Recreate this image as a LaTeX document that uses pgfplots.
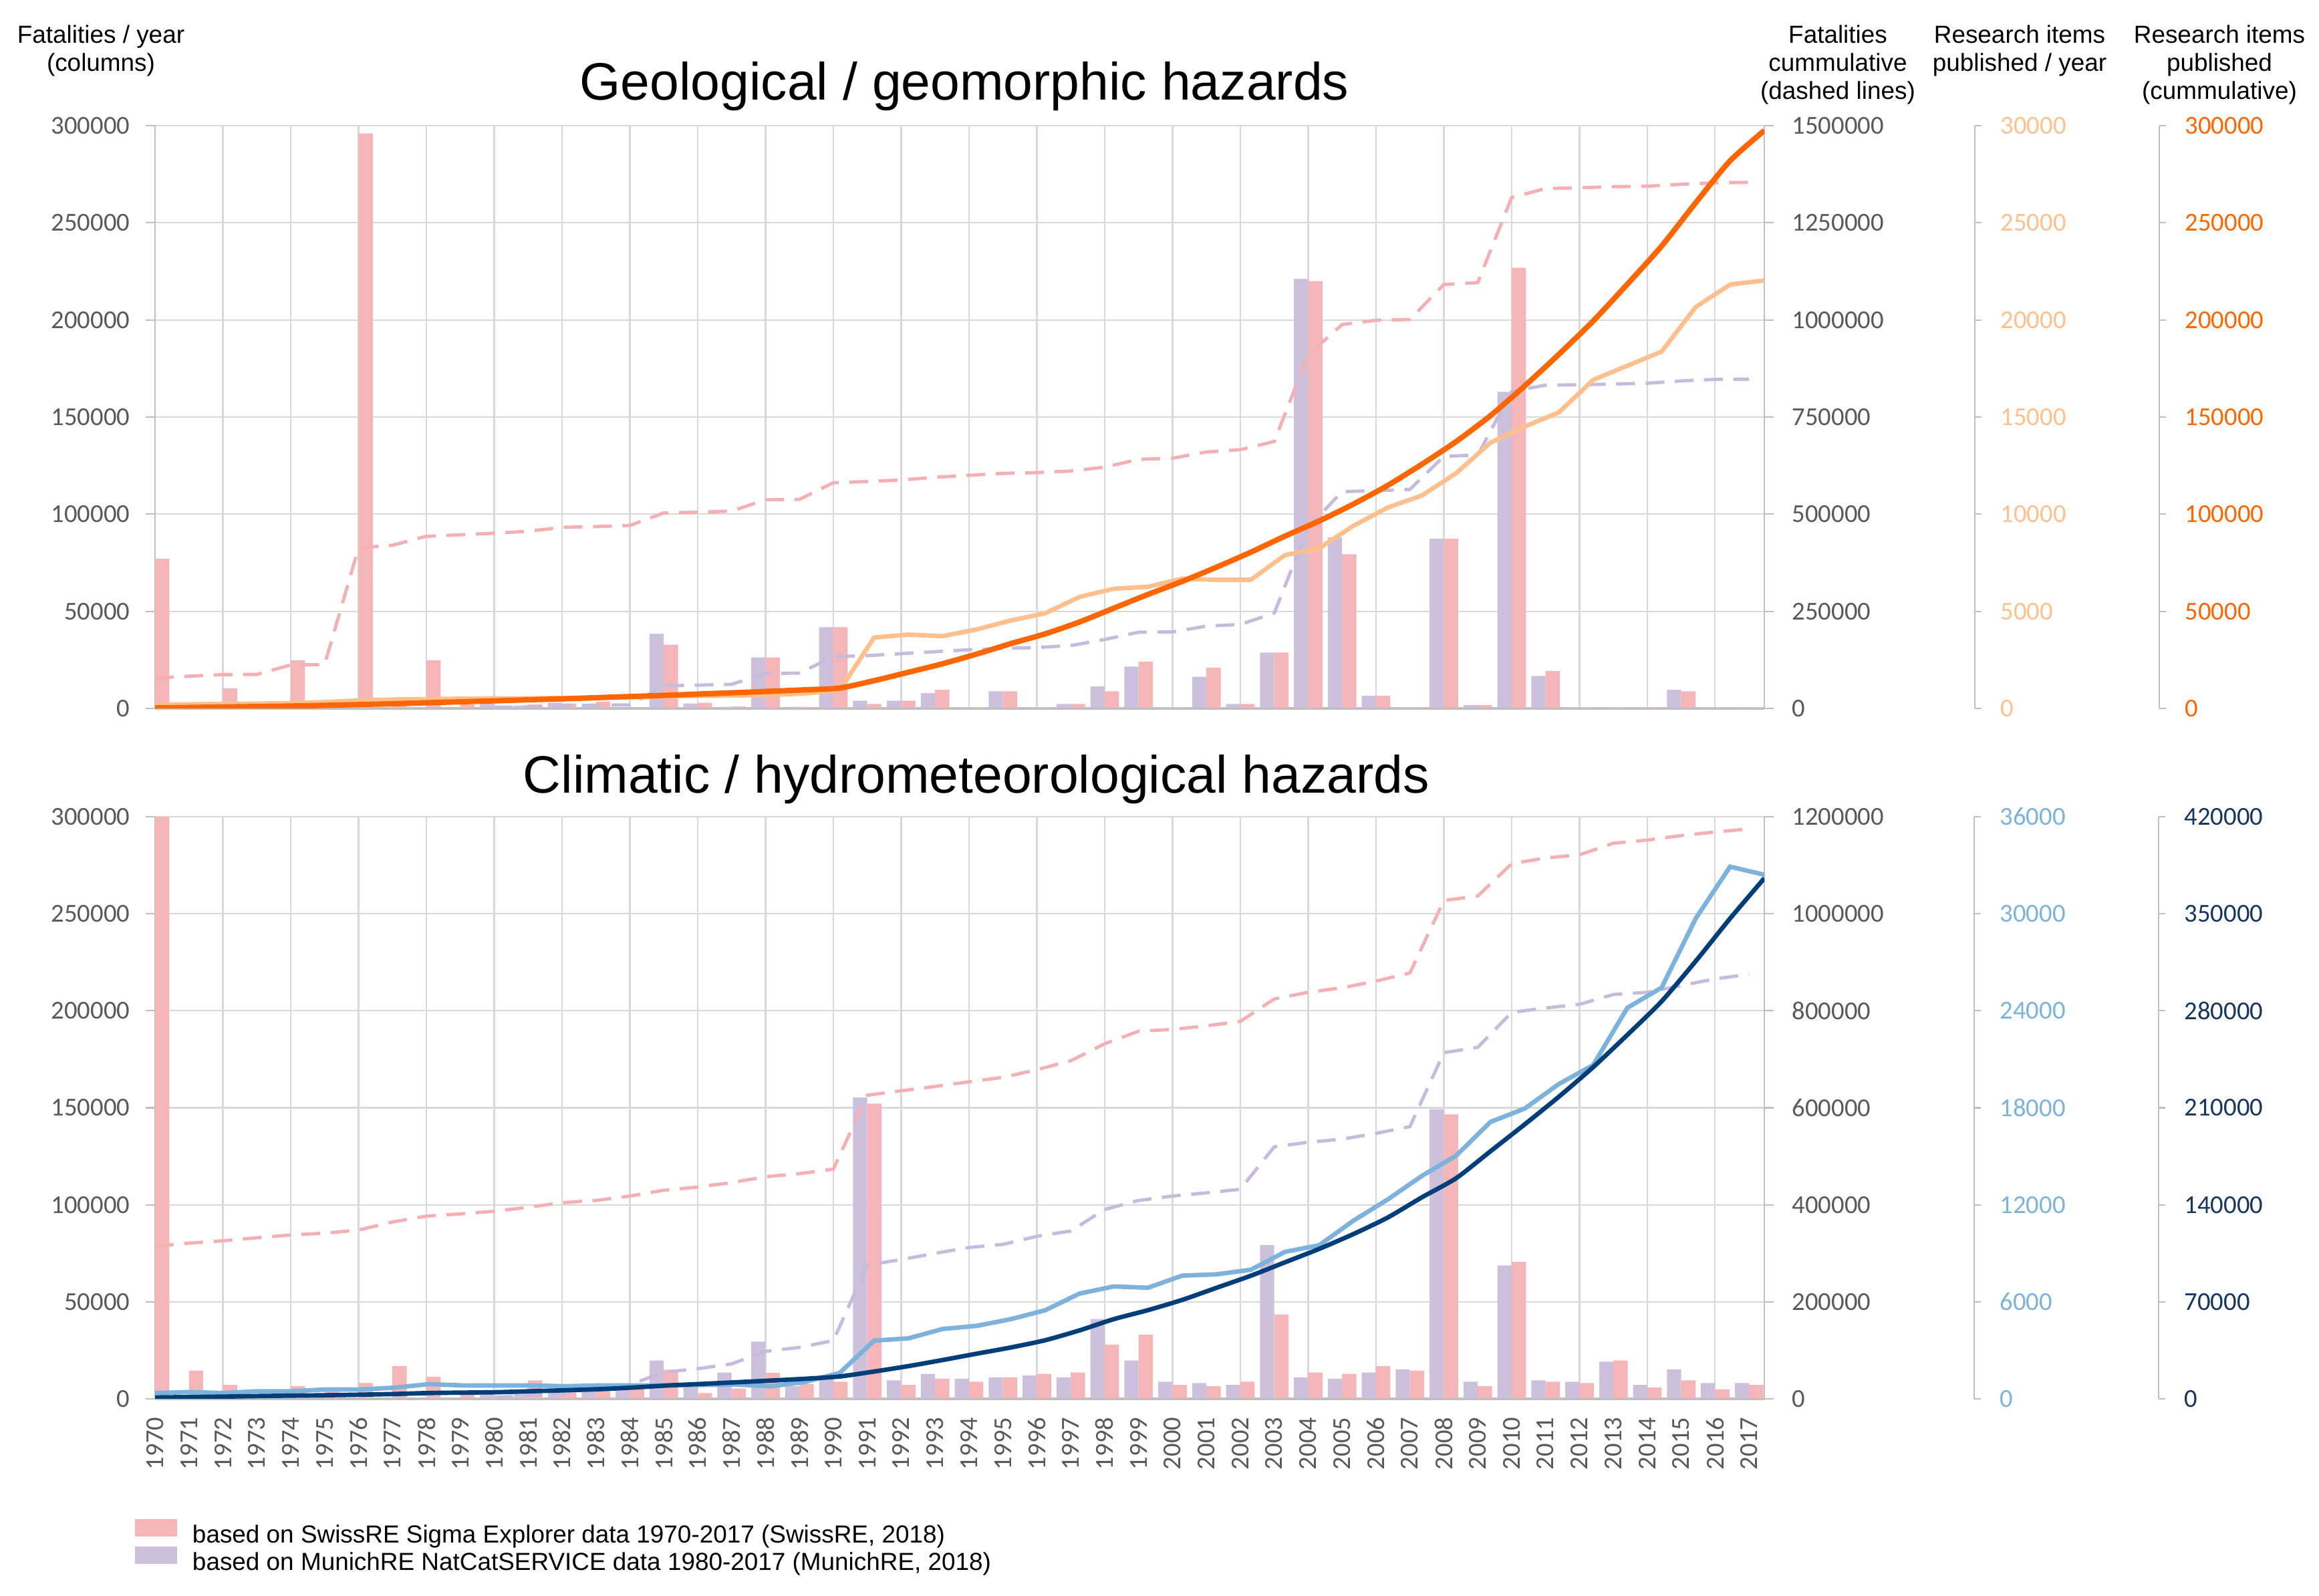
\documentclass[border=0pt]{standalone}
\usepackage{fontspec}
\setmainfont{Liberation Sans}
\newfontfamily\carlito{Carlito}
\usepackage{pgfplots}
\usepackage{pgfplotstable}
\pgfplotsset{compat=1.18}

\definecolor{pinkbar}{RGB}{244,182,185}
\definecolor{purplebar}{RGB}{205,192,221}
\definecolor{pinkdash}{RGB}{244,176,178}
\definecolor{purpledash}{RGB}{200,186,220}
\definecolor{lorange}{RGB}{255,192,142}
\definecolor{dorange}{RGB}{255,102,0}
\definecolor{lblue}{RGB}{125,178,220}
\definecolor{dblue}{RGB}{0,62,122}
\definecolor{dbluetxt}{RGB}{22,54,96}
\definecolor{gridc}{RGB}{217,217,217}
\definecolor{axisc}{RGB}{191,191,191}
\definecolor{tickc}{RGB}{89,89,89}

\newcommand\tickfont{\carlito\fontsize{11}{13}\selectfont}
\newcommand\legfont{\fontsize{10.5}{12}\selectfont}
\newcommand\titlefont{\fontsize{22.4}{27}\selectfont}

\pgfplotstableread{
year sw mu swc muc ry rc
1970 77000 nan 78000 nan 210 300
1971 500 nan 83000 nan 210 500
1972 10400 nan 87000 nan 230 750
1973 500 nan 87500 nan 250 1000
1974 24800 nan 112000 nan 270 1250
1975 1000 nan 113000 nan 330 1600
1976 296000 nan 413000 nan 420 2000
1977 2500 nan 420000 nan 460 2450
1978 24800 nan 443000 nan 480 2950
1979 2000 nan 447000 nan 500 3450
1980 1500 2500 451000 2500 520 3950
1981 2000 1500 456000 4000 520 4500
1982 2500 3000 466000 7000 540 5000
1983 3500 1500 468000 8500 560 5600
1984 500 500 471000 9000 580 6200
1985 32800 38400 503000 58000 630 6800
1986 2900 2500 505000 60000 650 7500
1987 1000 800 508000 62000 670 8150
1988 26300 26300 537000 90000 690 8850
1989 800 800 538000 91000 770 9600
1990 41800 41800 581000 133000 940 10500
1991 2300 4000 584000 136000 3650 14300
1992 4000 4000 588000 141000 3800 18600
1993 9600 7900 595000 146000 3720 23000
1994 600 600 600000 151000 4070 28000
1995 8800 8800 605000 154500 4530 33400
1996 600 600 607000 156600 4900 38400
1997 2300 2300 611000 161800 5740 44500
1998 8800 11300 621000 177400 6160 51600
1999 24000 21500 641000 196200 6260 58700
2000 600 600 644000 196800 6680 65400
2001 20900 16300 660000 211900 6620 72700
2002 2300 2300 666000 216100 6620 80400
2003 28800 28800 687000 245300 7890 88700
2004 220000 221100 910000 466000 8250 96500
2005 79300 88000 988000 558000 9400 105200
2006 6500 6500 999000 560500 10340 114800
2007 600 600 1001000 563700 10960 125700
2008 87300 87300 1091000 649000 12110 137400
2009 1700 1700 1096000 652000 13680 150700
2010 226800 162900 1315000 816000 14510 166000
2011 19200 16700 1338000 832000 15240 182300
2012 600 600 1340000 833000 16910 199400
2013 600 600 1343000 835000 17640 218400
2014 600 600 1344000 837000 18370 238000
2015 8800 9600 1349000 843000 20670 260400
2016 600 600 1353000 847000 21820 281900
2017 600 600 1354000 847500 22030 297500
}\geodata

\pgfplotstableread{
year sw mu swc muc ry rc
1970 315000 nan 314700 nan 360 1000
1971 14500 nan 321000 nan 420 1300
1972 7200 nan 325800 nan 360 1600
1973 1800 nan 332000 nan 470 2000
1974 6500 nan 337800 nan 470 2300
1975 4000 nan 341500 nan 580 2600
1976 8100 nan 348000 nan 580 3000
1977 16800 nan 364600 nan 690 3500
1978 11300 nan 376600 nan 910 4200
1979 4200 nan 381200 nan 830 4500
1980 1800 3000 386700 3000 830 4800
1981 9500 4200 395000 7000 830 5500
1982 5300 5300 404300 12000 780 6200
1983 6500 6500 409000 19000 830 7000
1984 5300 8000 418000 29000 830 8200
1985 15000 19800 430000 55000 830 9700
1986 3000 6000 436600 62000 860 10800
1987 5300 13600 445800 72000 880 12000
1988 13400 29500 457800 98000 780 13200
1989 7600 6500 464300 106000 1050 14500
1990 8800 12200 473500 120000 1610 16150
1991 152100 155300 625800 276000 3600 19700
1992 7200 9500 635000 287000 3740 23600
1993 10400 12900 644000 300000 4320 28000
1994 8800 10400 653500 312000 4515 32600
1995 11100 11100 662700 318400 4930 37100
1996 12900 12000 678400 335000 5480 42300
1997 13600 11100 696900 346000 6510 49400
1998 27900 41100 731900 390400 6950 57500
1999 33000 19800 757800 408900 6870 64000
2000 7200 8800 761500 418100 7620 71400
2001 6500 8100 768900 424600 7700 80100
2002 8800 7200 778100 432000 7980 88800
2003 43400 79200 824200 519600 9090 98500
2004 13600 11100 838100 528900 9500 108200
2005 12900 10400 847300 535300 11020 118900
2006 16800 13600 861200 547300 12330 130800
2007 14500 15200 877800 561200 13790 145400
2008 146600 149300 1027300 713500 15040 159200
2009 6500 8800 1036500 724600 17120 178600
2010 70600 68800 1103000 796600 17950 198000
2011 8800 9500 1115000 805800 19470 218000
2012 8100 8800 1121400 813200 20640 239300
2013 19800 19200 1145400 833500 24180 262600
2014 5800 7200 1151900 838100 25430 286800
2015 9500 15200 1161100 851900 29720 315900
2016 4800 8100 1168500 865800 32910 346600
2017 7200 8100 1175000 875000 32410 375600
}\climdata

\pgfplotsset{
  numfmt/.style={scaled y ticks=false, scaled x ticks=false,
    /pgf/number format/fixed, /pgf/number format/1000 sep={},
    /pgf/number format/assume math mode=true},
  panel/.style={scale only axis, width=24.08cm, anchor=south west,
    xmin=1970, xmax=2017.45, numfmt},
  mainax/.style={panel, ymin=0, ymax=300000,
    axis x line*=bottom, axis y line*=left,
    axis line style={-, draw=axisc, line width=0.8pt},
    x axis line style={line width=1.4pt},
    xtick={1970,1972,...,2016}, xticklabels={}, xtick style={draw=none},
    ytick={0,50000,100000,150000,200000,250000,300000},
    xmajorgrids, ymajorgrids, grid style={draw=gridc, line width=0.6pt},
    tick align=outside, major tick length=0.14cm,
    ytick style={draw=axisc, line width=0.6pt},
    yticklabel style={font=\tickfont, color=tickc, anchor=east, inner sep=0pt, xshift=-0.23cm}},
  rax/.style={panel, axis x line*=bottom, x axis line style={draw=none}, xtick=\empty,
    axis y line*=right,
    axis line style={-, draw=axisc, line width=0.8pt},
    tick align=outside, major tick length=0.14cm,
    ytick style={draw=axisc, line width=0.6pt},
    yticklabel style={font=\tickfont, color=tickc, anchor=west, inner sep=0pt, xshift=0.27cm}},
  lineax/.style={scale only axis, width=24.08cm, anchor=south west,
    xmin=1970, xmax=2017, hide axis},
  dummy/.style={numfmt, scale only axis, width=1cm, anchor=south east,
    xmin=0, xmax=1, axis x line=none, axis y line=right,
    axis line style={-, draw=axisc, line width=0.8pt},
    tick align=outside, major tick length=0.1cm,
    ytick style={draw=axisc, line width=0.6pt},
    yticklabel style={font=\tickfont, anchor=west, inner sep=0pt, xshift=0.28cm}},
  pinkb/.style={ybar, bar width=0.42, bar shift=0.21, fill=pinkbar, draw=none},
  purpb/.style={ybar, bar width=0.42, bar shift=-0.21, fill=purplebar, draw=none},
  dsh/.style={line width=1.4pt, dash pattern=on 8pt off 4.5pt},
}

\begin{document}
\begin{tikzpicture}
\useasboundingbox (0,0) rectangle (34.70cm,23.87cm);

% ---------------- TOP PANEL ----------------
\begin{axis}[mainax, height=8.72cm, at={(2.32cm,13.27cm)}]
\addplot[purpb] table[x=year,y=mu]{\geodata};
\addplot[pinkb] table[x=year,y=sw]{\geodata};
\end{axis}
\begin{axis}[rax, height=8.72cm, at={(2.32cm,13.27cm)}, ymin=0, ymax=1500000,
  ytick={0,250000,500000,750000,1000000,1250000,1500000}]
\addplot[pinkdash, dsh] table[x=year,y=swc]{\geodata};
\addplot[purpledash, dsh] table[x=year,y=muc]{\geodata};
\end{axis}
\begin{axis}[lineax, height=8.72cm, at={(2.32cm,13.27cm)}, ymin=0, ymax=30000]
\addplot[lorange, line width=1.9pt] table[x=year,y=ry]{\geodata};
\end{axis}
\begin{axis}[lineax, height=8.72cm, at={(2.32cm,13.27cm)}, ymin=0, ymax=300000]
\addplot[dorange, line width=2.3pt, smooth, tension=0.4] table[x=year,y=rc]{\geodata};
\end{axis}
\begin{axis}[dummy, height=8.72cm, at={(29.55cm,13.27cm)}, ymin=0, ymax=30000,
  ytick={0,5000,10000,15000,20000,25000,30000}, yticklabel style={color=lorange}]
\addplot[draw=none] coordinates {(0,0)};
\end{axis}
\begin{axis}[dummy, height=8.72cm, at={(32.31cm,13.27cm)}, ymin=0, ymax=300000,
  ytick={0,50000,100000,150000,200000,250000,300000}, yticklabel style={color=dorange}]
\addplot[draw=none] coordinates {(0,0)};
\end{axis}

% ---------------- BOTTOM PANEL ----------------
\begin{axis}[mainax, height=8.71cm, at={(2.32cm,2.94cm)},
  legend style={at={(-0.01246,-0.2067)}, anchor=north west, draw=none, fill=none,
    inner sep=0pt, outer sep=0pt, font=\legfont, row sep=-0.03cm, column sep=0.23cm,
    nodes={inner sep=0pt, text height=0.27cm, text depth=0.08cm}},
  legend cell align=left,
  legend image code/.code={\fill[#1] (0cm,0cm) rectangle (0.63cm,0.26cm);}]
\addplot[purpb, forget plot] table[x=year,y=mu]{\climdata};
\addplot[pinkb, forget plot] table[x=year,y=sw]{\climdata};
\addlegendimage{fill=pinkbar, draw=none}
\addlegendentry{based on SwissRE Sigma Explorer data 1970-2017 (SwissRE, 2018)}
\addlegendimage{fill=purplebar, draw=none}
\addlegendentry{based on MunichRE NatCatSERVICE data 1980-2017 (MunichRE, 2018)}
\end{axis}
\begin{axis}[rax, height=8.71cm, at={(2.32cm,2.94cm)}, ymin=0, ymax=1200000,
  ytick={0,200000,400000,600000,800000,1000000,1200000},
  xtick={1970,...,2017}, xtick style={draw=none},
  xticklabel style={font=\tickfont, color=tickc, inner sep=0pt, anchor=east, yshift=-0.13cm, rotate=90}]
\addplot[pinkdash, dsh] table[x=year,y=swc]{\climdata};
\addplot[purpledash, dsh] table[x=year,y=muc]{\climdata};
\end{axis}
\begin{axis}[lineax, height=8.71cm, at={(2.32cm,2.94cm)}, ymin=0, ymax=36000]
\addplot[lblue, line width=1.9pt] table[x=year,y=ry]{\climdata};
\end{axis}
\begin{axis}[lineax, height=8.71cm, at={(2.32cm,2.94cm)}, ymin=0, ymax=420000]
\addplot[dblue, line width=1.9pt, smooth, tension=0.4] table[x=year,y=rc]{\climdata};
\end{axis}
\begin{axis}[dummy, height=8.71cm, at={(29.54cm,2.94cm)}, ymin=0, ymax=36000,
  ytick={0,6000,12000,18000,24000,30000,36000}, yticklabel style={color=lblue}]
\addplot[draw=none] coordinates {(0,0)};
\end{axis}
\begin{axis}[dummy, height=8.71cm, at={(32.30cm,2.94cm)}, ymin=0, ymax=420000,
  ytick={0,70000,140000,210000,280000,350000,420000}, yticklabel style={color=dbluetxt}]
\addplot[draw=none] coordinates {(0,0)};
\end{axis}

% ---------------- TITLES AND HEADERS ----------------
\node[anchor=base, font=\titlefont] at (14.43cm,22.37cm) {Geological / geomorphic hazards};
\node[anchor=base, font=\titlefont] at (14.61cm,12.00cm) {Climatic / hydrometeorological hazards};

\begin{scope}[every node/.style={anchor=base, font=\legfont, inner sep=0pt}]
\node at (1.51cm,23.22cm) {Fatalities / year};
\node at (1.51cm,22.80cm) {(columns)};
\node at (27.50cm,23.22cm) {Fatalities};
\node at (27.50cm,22.80cm) {cummulative};
\node at (27.50cm,22.38cm) {(dashed lines)};
\node at (30.22cm,23.22cm) {Research items};
\node at (30.22cm,22.80cm) {published / year};
\node at (33.21cm,23.22cm) {Research items};
\node at (33.21cm,22.80cm) {published};
\node at (33.21cm,22.38cm) {(cummulative)};
\end{scope}
\end{tikzpicture}
\end{document}
